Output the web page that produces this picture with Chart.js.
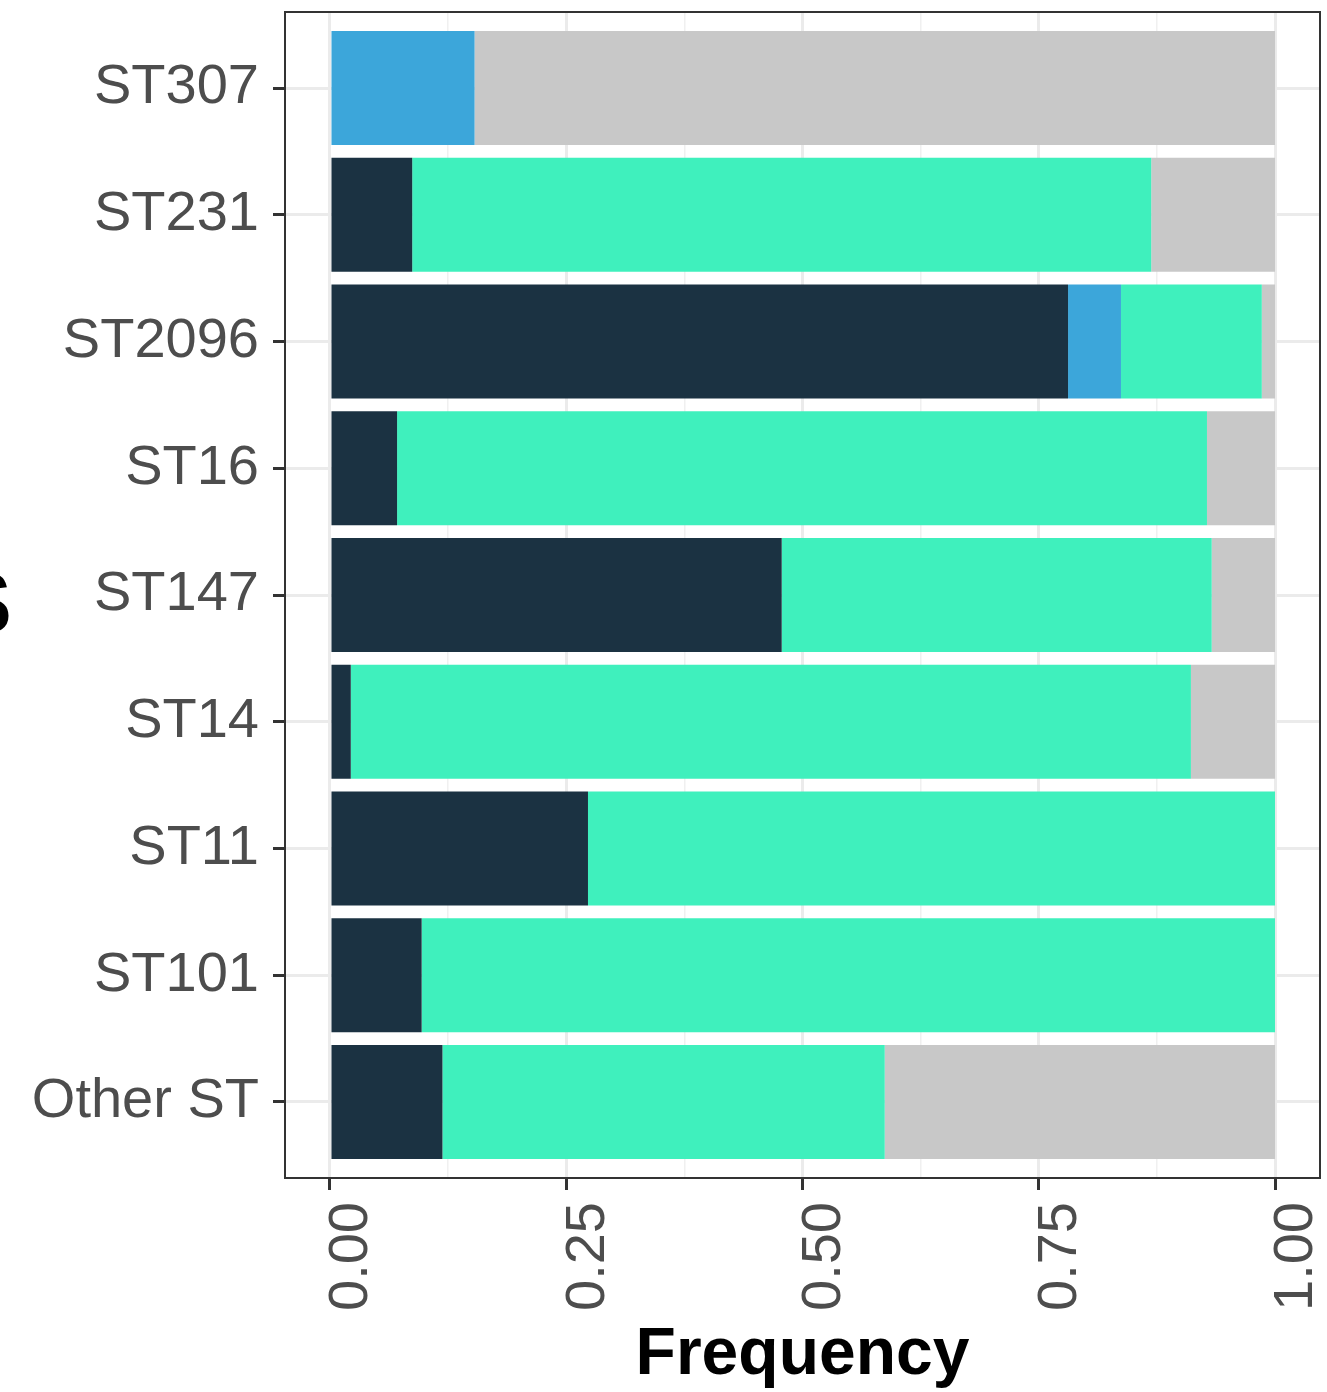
<!DOCTYPE html>
<html>
<head>
<meta charset="utf-8">
<script src="https://cdn.jsdelivr.net/npm/chart.js@4"></script>
<style>
html,body{margin:0;padding:0;background:#fff;}
#wrap{width:1327px;height:1392px;position:relative;}
</style>
</head>
<body>
<div id="wrap"><canvas id="c" width="1327" height="1392"></canvas></div>
<script>
const categories = ['ST307','ST231','ST2096','ST16','ST147','ST14','ST11','ST101','Other ST'];
const darkVals  = [0.000, 0.087, 0.781, 0.071, 0.478, 0.022, 0.273, 0.097, 0.119];
const blueVals  = [0.153, 0.000, 0.056, 0.000, 0.000, 0.000, 0.000, 0.000, 0.000];
const greenVals = [0.000, 0.782, 0.149, 0.857, 0.455, 0.889, 0.727, 0.903, 0.468];
const grayVals  = [0.847, 0.131, 0.014, 0.072, 0.067, 0.089, 0.000, 0.000, 0.413];
const xTicks = [0, 0.25, 0.5, 0.75, 1.0];
const xMinor = [0.125, 0.375, 0.625, 0.875];
const xTickLabels = ['0.00','0.25','0.50','0.75','1.00'];
const xTitle = 'Frequency';

const toPts = arr => arr.map((v,i)=>({x:v, y:i}));
const mk = (label, arr, color) => ({label, data: toPts(arr), backgroundColor: color, borderWidth: 0, categoryPercentage: 0.9, barPercentage: 1.0});

const borderPlugin = {
  id: 'panelBorder',
  afterDatasetsDraw(chart){
    const {ctx, chartArea:a} = chart;
    ctx.save();
    ctx.strokeStyle = '#333333';
    ctx.lineWidth = 2;
    ctx.strokeRect(a.left, a.top, a.right-a.left, a.bottom-a.top);
    ctx.restore();
  },
  afterDraw(chart){
    const ctx = chart.ctx;
    ctx.save();
    ctx.fillStyle = '#000';
    ctx.font = 'bold 88px "Liberation Sans", Arial, sans-serif';
    ctx.textBaseline = 'alphabetic';
    ctx.textAlign = 'right';
    ctx.fillText('S', 12, 633);
    ctx.restore();
  }
};

new Chart(document.getElementById('c'), {
  type: 'bar',
  data: {
    datasets: [
      mk('dark', darkVals, '#1b3242'),
      mk('blue', blueVals, '#3ca6da'),
      mk('green', greenVals, '#3ff0bd'),
      mk('gray', grayVals, '#c8c8c8')
    ]
  },
  plugins: [borderPlugin],
  options: {
    responsive: false,
    animation: false,
    indexAxis: 'y',
    layout: {padding: {left: 0, right: 7, top: 12, bottom: 0}},
    plugins: {legend: {display: false}, tooltip: {enabled: false}},
    scales: {
      x: {
        type: 'linear', stacked: true, min: -0.0476, max: 1.0476, offset: false,
        afterBuildTicks: s => { s.ticks = [...xTicks, ...xMinor].sort((a,b)=>a-b).map(v=>({value:v})); },
        afterFit: s => { s.height = 214; s.paddingLeft = 0; s.paddingRight = 0; },
        border: {display: false},
        grid: {
          offset: false,
          color: c => xMinor.includes(c.tick && c.tick.value) ? '#f0f0f0' : '#ebebeb',
          lineWidth: c => xMinor.includes(c.tick && c.tick.value) ? 1.5 : 3,
          tickColor: c => xMinor.includes(c.tick && c.tick.value) ? 'rgba(0,0,0,0)' : '#333333',
          tickWidth: 3, tickLength: 12, drawTicks: true
        },
        ticks: {
          autoSkip: false, minRotation: 90, maxRotation: 90, padding: 12, labelOffset: 22,
          color: '#4d4d4d', font: {family: '"Liberation Sans", Arial, sans-serif', size: 56},
          callback: v => { const i = xTicks.indexOf(v); return i >= 0 ? xTickLabels[i] : ''; }
        },
        title: {display: true, text: xTitle, color: '#000', padding: {top: 0, bottom: -3},
          font: {family: '"Liberation Sans", Arial, sans-serif', size: 66, weight: 'bold'}}
      },
      y: {
        type: 'linear', stacked: true, reverse: true, min: -0.6, max: 8.6, offset: false,
        afterBuildTicks: s => { s.ticks = categories.map((_,i)=>({value:i})); },
        afterFit: s => { s.width = 285; s.paddingTop = 0; s.paddingBottom = 0; },
        border: {display: false},
        grid: {offset: false, color: '#ebebeb', lineWidth: 3, tickColor: '#333333', tickWidth: 3, tickLength: 12},
        ticks: {
          autoSkip: false, padding: 14, color: '#4d4d4d',
          font: {family: '"Liberation Sans", Arial, sans-serif', size: 56},
          callback: v => categories[v] !== undefined ? categories[v] : ''
        }
      }
    }
  }
});
</script>
</body>
</html>
